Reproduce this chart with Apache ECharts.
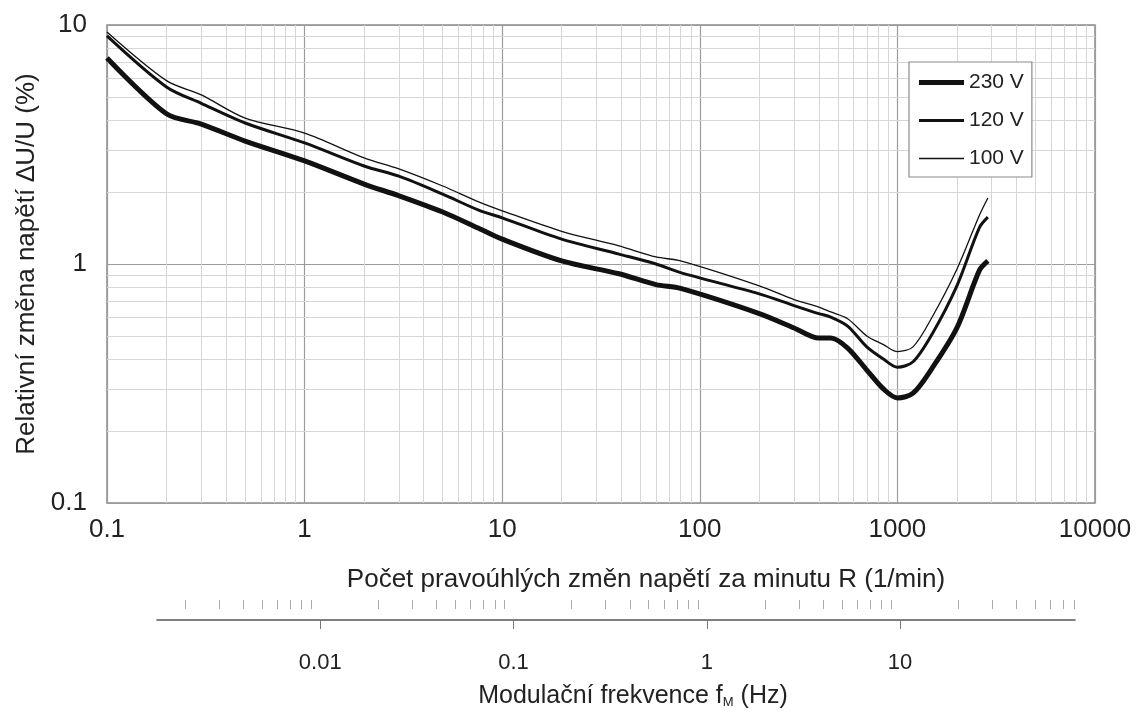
<!DOCTYPE html>
<html>
<head>
<meta charset="utf-8">
<script src="https://cdn.jsdelivr.net/npm/echarts@6/dist/echarts.min.js"></script>
<style>
  html, body { margin: 0; padding: 0; background: #fff; }
  #chart { width: 1141px; height: 713px; }
</style>
</head>
<body>
<div id="chart"></div>
<script>
// R (1/min) and relative voltage change dU/U (%)
var rates = [0.1, 0.2, 0.3, 0.5, 1, 2, 3, 5, 7.6, 10, 20, 39, 60, 80, 200, 300, 400, 460, 560, 700, 850, 1000, 1200, 1500, 2000, 2600, 2870];
var u230 = [7.28, 4.25, 3.85, 3.27, 2.70, 2.16, 1.93, 1.65, 1.41, 1.27, 1.03, 0.91, 0.82, 0.79, 0.62, 0.54, 0.49, 0.49, 0.445, 0.36, 0.30, 0.275, 0.288, 0.367, 0.54, 0.94, 1.03];
var u120 = [9.0, 5.5, 4.7, 3.89, 3.21, 2.57, 2.33, 1.96, 1.68, 1.56, 1.27, 1.10, 1.0, 0.92, 0.75, 0.67, 0.62, 0.60, 0.55, 0.45, 0.40, 0.37, 0.39, 0.51, 0.81, 1.42, 1.57];
var u100 = [9.35, 5.85, 5.1, 4.08, 3.53, 2.78, 2.50, 2.12, 1.82, 1.67, 1.37, 1.19, 1.07, 1.03, 0.81, 0.71, 0.66, 0.63, 0.59, 0.50, 0.46, 0.43, 0.45, 0.60, 0.95, 1.6, 1.89];

var seriesNames = ['230 V', '120 V', '100 V'];
var seriesWidths = [5, 3, 1.3];

// tick labels
var xDecades = [0.1, 1, 10, 100, 1000, 10000];
var yDecades = [0.1, 1, 10];
var fDecades = [0.01, 0.1, 1, 10];

/*eslint no-magic-numbers:0*/
function minorsOf(decades, lastMax) {
  var arr = [];
  for (var i = 0; i < decades.length; i++) {
    for (var k = 2; k <= 9; k++) {
      var v = +(decades[i] * k).toPrecision(3);
      if (lastMax === undefined || v <= lastMax) {
        arr.push(v);
      }
    }
  }
  return arr;
}

var xMinor = minorsOf(xDecades.slice(0, 5));
var yMinor = minorsOf(yDecades.slice(0, 2));
var fMinor = minorsOf([0.001, 0.01, 0.1, 1, 10], 80).filter(function(v) { return v >= 0.0015; });

function pairs(ys) {
  return rates.map(function(r, i) { return [r, ys[i]]; });
}

function fmt(v) {
  return String(+(+v).toPrecision(3));
}

var font = '"Liberation Sans", Arial, sans-serif';
var txt = '#222';

var gridLines = [];
xMinor.forEach(function(v) { gridLines.push({ xAxis: v }); });
yMinor.forEach(function(v) { gridLines.push({ yAxis: v }); });

// legend samples: line of the same thickness as the series
var legendData = seriesNames.map(function(n, i) {
  return { name: n, icon: 'path://M0,0L45,0L45,' + seriesWidths[i] + 'L0,' + seriesWidths[i] + 'Z' };
});

var myChart = echarts.init(document.getElementById('chart'));

var option = {
  backgroundColor: '#fff',
  animation: false,
  textStyle: { fontFamily: font, color: txt },
  grid: [{
    left: 107,
    right: 46,
    top: 25,
    bottom: 210,
    show: true,
    borderColor: '#8a8a8a',
    borderWidth: 1.5
  }, {
    left: 157,
    right: 66,
    top: 600,
    height: 20
  }],
  legend: {
    left: 909,
    top: 62,
    z: 20,
    orient: 'vertical',
    data: legendData,
    itemWidth: 45,
    itemHeight: 20,
    itemGap: 17,
    padding: [10, 8, 8, 10],
    borderColor: '#8a8a8a',
    borderWidth: 1.2,
    backgroundColor: '#fff',
    textStyle: { fontFamily: font, fontSize: 21, color: txt }
  },
  xAxis: [{
    type: 'log',
    gridIndex: 0,
    min: 0.1,
    max: 10000,
    logBase: 10,
    name: 'Počet pravoúhlých změn napětí za minutu R (1/min)',
    nameLocation: 'middle',
    nameGap: 64,
    nameTextStyle: { fontFamily: font, fontSize: 26, color: txt, padding: [0, 0, 0, 90] },
    axisLine: { show: false },
    axisTick: { show: false },
    axisLabel: {
      fontFamily: font,
      fontSize: 26,
      color: txt,
      margin: 14,
      formatter: fmt
    },
    splitLine: { show: true, lineStyle: { color: '#9c9c9c', width: 1.2 } }
  }, {
    type: 'log',
    gridIndex: 1,
    min: 0.00143,
    max: 80.4,
    logBase: 10,
    name: '{a|Modulační frekvence f}{s|M}{a| (Hz)}',
    nameLocation: 'middle',
    nameGap: 64,
    nameTextStyle: {
      padding: [0, 0, 0, 34],
      rich: {
        a: { fontFamily: font, fontSize: 25, color: txt },
        s: { fontFamily: font, fontSize: 13, color: txt, verticalAlign: 'bottom', padding: [12, 0, 0, 0] }
      }
    },
    axisLine: { show: true, lineStyle: { color: '#555', width: 1.5 } },
    axisTick: { show: true, customValues: fDecades, length: 9, lineStyle: { color: '#777', width: 1 } },
    axisLabel: {
      customValues: fDecades,
      fontFamily: font,
      fontSize: 22,
      color: txt,
      margin: 32,
      formatter: fmt
    },
    splitLine: { show: false }
  }, {
    type: 'log',
    gridIndex: 1,
    min: 0.00143,
    max: 80.4,
    logBase: 10,
    axisLine: { show: false },
    axisTick: { show: true, inside: true, customValues: fMinor, length: 9, lineStyle: { color: '#aaa', width: 1 } },
    axisLabel: { show: false },
    splitLine: { show: false }
  }],
  yAxis: [{
    type: 'log',
    gridIndex: 0,
    min: 0.1,
    max: 10,
    logBase: 10,
    name: 'Relativní změna napětí ∆U/U (%)',
    nameLocation: 'middle',
    nameGap: 65,
    nameTextStyle: { fontFamily: font, fontSize: 26, color: txt },
    axisLine: { show: false },
    axisTick: { show: false },
    axisLabel: {
      fontFamily: font,
      fontSize: 26,
      color: txt,
      margin: 20,
      formatter: fmt
    },
    splitLine: { show: true, lineStyle: { color: '#9c9c9c', width: 1.2 } }
  }, {
    type: 'value',
    gridIndex: 1,
    show: false
  }],
  series: [{
    name: 'grid',
    type: 'line',
    xAxisIndex: 0,
    yAxisIndex: 0,
    data: [],
    z: 1,
    silent: true,
    markLine: {
      z: 1,
      silent: true,
      symbol: 'none',
      label: { show: false },
      lineStyle: { color: '#d6d6d6', width: 1, type: 'solid' },
      data: gridLines
    }
  }, {
    name: seriesNames[0],
    type: 'line',
    symbol: 'none',
    smooth: 0.3,
    z: 5,
    color: '#111',
    lineStyle: { color: '#111', width: seriesWidths[0] },
    data: pairs(u230)
  }, {
    name: seriesNames[1],
    type: 'line',
    symbol: 'none',
    smooth: 0.3,
    z: 5,
    color: '#111',
    lineStyle: { color: '#111', width: seriesWidths[1] },
    data: pairs(u120)
  }, {
    name: seriesNames[2],
    type: 'line',
    symbol: 'none',
    smooth: 0.3,
    z: 5,
    color: '#111',
    lineStyle: { color: '#111', width: seriesWidths[2] },
    data: pairs(u100)
  }]
};

myChart.setOption(option);
</script>
</body>
</html>
